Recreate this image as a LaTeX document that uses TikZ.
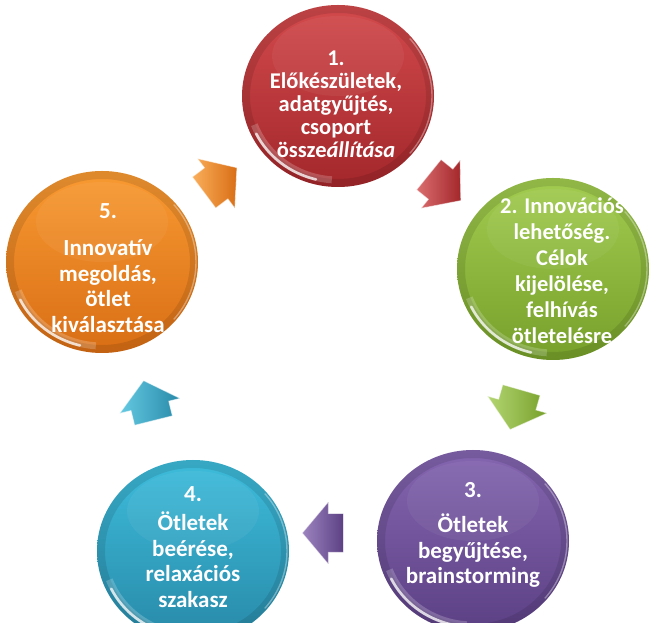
\documentclass[tikz,border=0pt]{standalone}
\usepackage{fontspec}
\setmainfont{Carlito}
\usetikzlibrary{shapes.geometric,shapes.arrows,calc}

\definecolor{redT}{HTML}{D24A4C}
\definecolor{redB}{HTML}{A3272B}
\definecolor{grnT}{HTML}{A2CC50}
\definecolor{grnB}{HTML}{76A02A}
\definecolor{purT}{HTML}{8466B0}
\definecolor{purB}{HTML}{5C4084}
\definecolor{bluT}{HTML}{3EBCDB}
\definecolor{bluB}{HTML}{2889A8}
\definecolor{orgT}{HTML}{F89A32}
\definecolor{orgB}{HTML}{D96E15}

\tikzset{
  ball/.style 2 args={ellipse, minimum width=192pt, minimum height=182pt,
    inner sep=0pt, top color=#1, bottom color=#2},
  flow/.style 2 args={single arrow, inner xsep=12pt, inner ysep=19pt,
    single arrow head extend=11.5pt, single arrow tip angle=100,
    left color=#1!80!white, right color=#2, draw=white, draw opacity=.5,
    line width=.8pt},
  caption/.style={text=white, align=center, inner sep=0pt,
    font=\bfseries\fontsize{23}{25.5}\selectfont},
  % glossy rim and reflections laid over a ball
  pics/gloss/.style={code={
    \draw[black, opacity=.10, line width=8pt] (0,0) ellipse[x radius=92, y radius=87];
    \fill[white, opacity=.05] (0,40) ellipse[x radius=66, y radius=40];
    \draw[white, opacity=.20, line width=7pt]
      (200:89 and 84) arc[start angle=200, end angle=266, x radius=89, y radius=84];
    \draw[white, opacity=.75, line width=2.6pt, line cap=round]
      (206:91 and 86) arc[start angle=206, end angle=256, x radius=91, y radius=86];
    \draw[white, opacity=.35, line width=1.4pt, line cap=round]
      (-40:94 and 89) arc[start angle=-40, end angle=40, x radius=94, y radius=89];
  }},
}

\begin{document}
\begin{tikzpicture}[x=1pt, y=1pt]
  \useasboundingbox[fill=white] (0,0) rectangle (656,623);

  % the five stages
  \node[ball={redT}{redB}] (c1) at (338,527) {};
  \node[ball={grnT}{grnB}] (c2) at (553,354) {};
  \node[ball={purT}{purB}] (c3) at (473,82) {};
  \node[ball={bluT}{bluB}] (c4) at (193,72) {};
  \node[ball={orgT}{orgB}] (c5) at (102,361) {};
  \foreach \c in {c1,c2,c3,c4,c5} \pic at (\c.center) {gloss};

  % stage texts
  \node[caption, font=\bfseries\fontsize{22.5}{23}\selectfont] (t1) at (336,519)
    {1.\\Előkészületek,\\adatgyűjtés,\\csoport\\össze\textit{állítása}};
  \node[caption, font=\bfseries\fontsize{22.5}{26}\selectfont] (t2) at (562,352)
    {2. Innovációs\\lehetőség.\\Célok\\kijelölése,\\felhívás\\ötletelésre};
  \node[caption] (t3) at (473,88)
    {3.\\[10pt]Ötletek\\begyűjtése,\\brainstorming};
  \node[caption] (t4) at (193,76)
    {4.\\[4pt]Ötletek\\beérése,\\relaxációs\\szakasz};
  \node[caption] (t5) at (108,355)
    {5.\\[12pt]Innovatív\\megoldás,\\ötlet\\kiválasztása};

  % cycle arrows between the stages
  \node[flow={redT}{redB}, rotate=-39] (a12) at ($(c1.center)!0.5!(c2.center)+(-7,0)$) {};
  \node[flow={grnT}{grnB}, rotate=-106] (a23) at ($(c2.center)!0.5!(c3.center)+(5,3)$) {};
  \node[flow={purT}{purB}, rotate=180] (a34) at ($(c3.center)!0.5!(c4.center)+(-2,13)$) {};
  \node[flow={bluT}{bluB}, rotate=104] (a45) at ($(c4.center)!0.5!(c5.center)+(3,-2)$) {};
  \node[flow={orgT}{orgB}, rotate=37] (a51) at ($(c5.center)!0.5!(c1.center)+(-6,-6)$) {};
\end{tikzpicture}
\end{document}
